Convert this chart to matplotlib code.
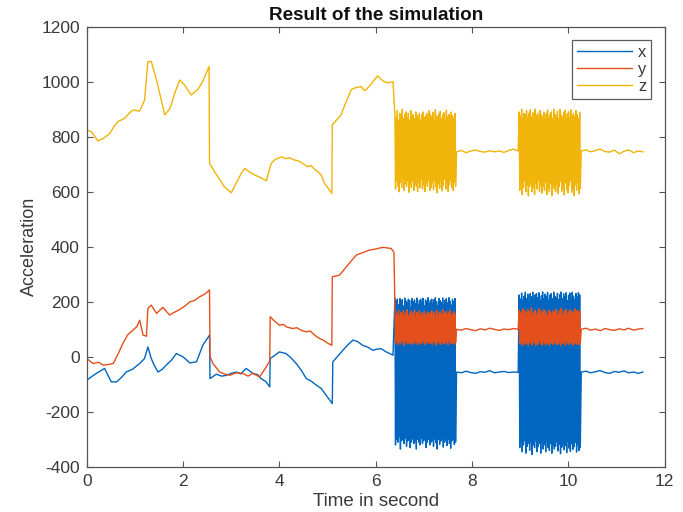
"""
Accelerometer x/y/z traces, MATLAB style figure.
"""

import numpy as np
import matplotlib.pyplot as plt

plt.rcParams["font.family"] = ["Liberation Sans", "DejaVu Sans"]
plt.rcParams["axes.unicode_minus"] = False

# colours (MATLAB default order)
col_x = "#0066BF"
col_y = "#E4501C"
col_z = "#F0B40A"

# --- smooth part, before the first burst ---
t_pre_x = [0, 0.1, 0.2, 0.37, 0.51, 0.62, 0.72, 0.82, 0.95, 1.10, 1.20, 1.27, 1.34, 1.40, 1.48,
           1.57, 1.65, 1.76, 1.86, 2.0, 2.14, 2.28, 2.41, 2.55, 2.56, 2.69, 2.80, 2.90, 3.00,
           3.11, 3.20, 3.31, 3.45, 3.55, 3.62, 3.72, 3.80, 3.81, 3.90, 4.00, 4.14, 4.25, 4.35,
           4.46, 4.56, 4.66, 4.77, 4.87, 4.97, 5.10, 5.11, 5.20, 5.32, 5.43, 5.53, 5.63, 5.73,
           5.84, 5.94, 6.03, 6.11, 6.22, 6.36]
x_pre = [-85, -72, -60, -42, -91, -91, -75, -55, -45, -24, -6, 36, -6, -30, -55,
         -45, -30, -12, 12, 0, -22, -18, 42, 79, -79, -63, -70, -67, -60,
         -55, -62, -42, -60, -65, -79, -90, -109, -6, 5, 18, 12, -5, -24,
         -50, -79, -88, -103, -115, -139, -170, -18, 0, 24, 45, 61, 55, 42,
         35, 24, 28, 30, 18, 6]

t_pre_y = [0, 0.13, 0.25, 0.34, 0.45, 0.55, 0.65, 0.75, 0.85, 0.96, 1.04, 1.10, 1.17, 1.24,
           1.27, 1.34, 1.45, 1.58, 1.72, 1.82, 1.93, 2.04, 2.14, 2.24, 2.34, 2.45, 2.55, 2.56,
           2.62, 2.76, 2.86, 2.97, 3.10, 3.24, 3.35, 3.45, 3.59, 3.73, 3.80, 3.81, 3.90, 4.00,
           4.08, 4.16, 4.28, 4.36, 4.46, 4.56, 4.64, 4.74, 4.83, 4.92, 5.00, 5.09, 5.10, 5.25,
           5.39, 5.50, 5.60, 5.72, 5.87, 6.00, 6.15, 6.32, 6.38]
y_pre = [-6, -24, -20, -30, -28, -24, 10, 49, 80, 97, 110, 133, 79, 75,
         176, 188, 158, 180, 152, 162, 172, 185, 200, 205, 218, 228, 243, 2,
         -24, -55, -62, -67, -58, -60, -70, -60, -73, -36, -15, 146, 130, 115,
         118, 108, 103, 106, 96, 91, 94, 78, 67, 60, 50, 42, 291, 297,
         327, 350, 370, 378, 388, 392, 398, 394, 380]

t_pre_z = [0, 0.10, 0.23, 0.34, 0.48, 0.57, 0.65, 0.79, 0.88, 0.96, 1.10, 1.20, 1.27, 1.34,
           1.45, 1.62, 1.73, 1.83, 1.93, 2.03, 2.17, 2.31, 2.42, 2.54, 2.55, 2.72, 2.86, 3.0,
           3.10, 3.21, 3.28, 3.38, 3.49, 3.60, 3.73, 3.83, 3.90, 3.97, 4.05, 4.12, 4.20, 4.32,
           4.40, 4.48, 4.59, 4.66, 4.73, 4.80, 4.87, 4.94, 5.09, 5.10, 5.28, 5.36, 5.49, 5.58,
           5.70, 5.76, 5.80, 5.90, 6.04, 6.10, 6.18, 6.26, 6.36]
z_pre = [824, 818, 785, 793, 812, 838, 855, 867, 885, 897, 893, 933, 1073, 1073,
         1006, 879, 903, 960, 1006, 988, 952, 972, 1005, 1055, 703, 655, 618, 596,
         630, 667, 685, 672, 661, 652, 640, 703, 715, 722, 727, 720, 724, 715,
         712, 703, 691, 695, 682, 673, 660, 630, 594, 843, 879, 915, 970, 978,
         982, 968, 970, 990, 1021, 1010, 1000, 996, 1000]

# --- oscillation bursts: peaks and troughs ---
burst1 = (6.40, 7.66)
burst2 = (8.98, 10.25)

x_b1_hi = [215, 205, 210, 190, 212, 200, 208, 185, 214, 203, 196, 210, 205, 180, 212, 200, 207,
           193, 214, 188, 205, 210, 198, 213, 185, 207, 200, 215, 195, 205, 210, 192, 208, 215,
           200, 186, 212, 204, 198, 214, 190, 206, 211, 196, 215, 202, 188, 209, 200, 212]
x_b1_lo = [-320, -300, -310, -290, -335, -305, -300, -315, -295, -325, -305, -300, -330, -310,
           -298, -315, -305, -335, -300, -310, -320, -295, -315, -305, -300, -330, -310, -300,
           -320, -310, -305, -325, -298, -312, -335, -300, -318, -306, -295, -328, -310, -302,
           -322, -300, -315, -332, -305, -298, -318, -310]
y_b1_hi = [165, 150, 160, 170, 145, 162, 155, 168, 150, 160, 172, 148, 158, 165, 152, 160, 170,
           147, 162, 155, 168, 150, 160, 145, 165, 158, 150, 162, 155, 160, 168, 152, 163, 147,
           170, 158, 150, 165, 155, 172, 148, 160, 166, 153, 161, 169, 150, 158, 164, 155]
y_b1_lo = [50, 60, 45, 55, 48, 62, 50, 42, 58, 52, 47, 60, 50, 45, 55, 48, 60, 52, 44, 56, 50,
           47, 58, 50, 45, 55, 52, 48, 60, 50, 46, 57, 51, 43, 59, 49, 54, 45, 61, 50, 47, 56,
           52, 44, 58, 50, 48, 55, 46, 52]
z_b1_hi = [880, 870, 895, 860, 885, 875, 900, 865, 880, 890, 870, 885, 860, 895, 875, 880, 865,
           890, 878, 870, 885, 860, 880, 890, 870, 875, 885, 865, 895, 880, 872, 888, 862, 898,
           876, 868, 884, 892, 866, 879, 887, 863, 896, 874, 881, 869, 890, 877, 865, 885]
z_b1_lo = [610, 640, 620, 600, 635, 615, 645, 605, 630, 620, 640, 598, 625, 615, 640, 605, 630,
           620, 600, 635, 615, 645, 610, 625, 600, 630, 620, 640, 605, 615, 632, 608, 642, 618,
           596, 628, 612, 638, 603, 622, 645, 610, 630, 600, 625, 640, 615, 605, 635, 620]

x_b2_hi = [225, 210, 232, 205, 220, 235, 212, 228, 200, 230, 218, 235, 208, 225, 230, 215, 233,
           205, 222, 236, 210, 228, 220, 234, 206, 225, 230, 212, 235, 220, 214, 231, 207, 226,
           236, 211, 229, 219, 233, 204, 224, 232, 213, 235, 221, 209, 230, 217, 234, 225]
x_b2_lo = [-330, -310, -345, -320, -305, -350, -325, -315, -340, -310, -355, -320, -330, -305,
           -345, -325, -315, -350, -310, -335, -320, -345, -305, -330, -340, -315, -350, -320,
           -335, -325, -308, -342, -318, -352, -328, -312, -338, -322, -348, -306, -332, -344,
           -316, -336, -326, -310, -346, -320, -340, -330]
y_b2_hi = [170, 158, 165, 175, 152, 168, 160, 172, 155, 166, 178, 150, 162, 170, 156, 165, 175,
           152, 168, 160, 172, 155, 166, 150, 170, 162, 156, 168, 160, 165, 174, 154, 167, 158,
           176, 151, 169, 161, 173, 157, 164, 171, 153, 166, 159, 175, 155, 168, 162, 170]
y_b2_lo = [48, 58, 42, 52, 45, 60, 48, 40, 55, 50, 44, 58, 48, 42, 52, 46, 58, 50, 42, 54, 48,
           44, 56, 48, 42, 52, 50, 46, 58, 48, 44, 55, 49, 41, 57, 47, 53, 43, 59, 48, 45, 54,
           50, 42, 56, 48, 46, 53, 44, 50]
z_b2_hi = [890, 875, 900, 865, 885, 880, 895, 870, 885, 898, 872, 888, 865, 900, 878, 885, 868,
           895, 880, 872, 890, 862, 885, 897, 870, 880, 890, 868, 900, 882, 874, 893, 866, 899,
           879, 871, 887, 896, 864, 883, 891, 869, 898, 876, 884, 873, 895, 880, 867, 888]
z_b2_lo = [605, 630, 590, 615, 640, 600, 625, 585, 620, 635, 600, 615, 590, 630, 610, 640, 600,
           625, 595, 620, 605, 635, 590, 615, 600, 630, 585, 620, 610, 600, 628, 594, 618, 638,
           602, 624, 588, 632, 608, 596, 622, 640, 598, 614, 586, 626, 606, 634, 592, 612]

# --- quiet stretches between and after the bursts ---
x_mid = [-55, -58, -52, -57, -60, -54, -56, -50, -58, -55, -53, -57, -55, -56]
y_mid = [100, 97, 103, 99, 95, 102, 98, 104, 100, 96, 101, 99, 103, 100]
z_mid = [745, 750, 742, 748, 752, 746, 744, 749, 745, 748, 743, 750, 755, 748]

x_tail = [-55, -52, -58, -54, -50, -57, -60, -53, -56, -51, -58, -55, -60, -55]
y_tail = [100, 104, 97, 101, 95, 103, 99, 96, 102, 98, 104, 97, 101, 103]
z_tail = [748, 752, 745, 750, 755, 746, 744, 751, 738, 747, 752, 742, 748, 745]


def burst(hi, lo, span):
    vals = [v for pair in zip(hi, lo) for v in pair]
    return np.linspace(span[0], span[1], len(vals)), np.array(vals, dtype=float)


def series(t_pre, v_pre, b1_hi, b1_lo, mid, b2_hi, b2_lo, tail):
    t1, v1 = burst(b1_hi, b1_lo, burst1)
    t2, v2 = burst(b2_hi, b2_lo, burst2)
    tm = np.linspace(7.68, 8.96, len(mid))
    tt = np.linspace(10.27, 11.55, len(tail))
    t = np.concatenate([t_pre, t1, tm, t2, tt])
    v = np.concatenate([v_pre, v1, mid, v2, tail])
    return t, v


tx, vx = series(t_pre_x, x_pre, x_b1_hi, x_b1_lo, x_mid, x_b2_hi, x_b2_lo, x_tail)
ty, vy = series(t_pre_y, y_pre, y_b1_hi, y_b1_lo, y_mid, y_b2_hi, y_b2_lo, y_tail)
tz, vz = series(t_pre_z, z_pre, z_b1_hi, z_b1_lo, z_mid, z_b2_hi, z_b2_lo, z_tail)

fig = plt.figure(figsize=(6.83, 5.12), dpi=100)
ax = fig.add_axes([0.127, 0.088, 0.846, 0.860])

ax.plot(tx, vx, color=col_x, lw=1.0, label="x")
ax.plot(ty, vy, color=col_y, lw=1.0, label="y")
ax.plot(tz, vz, color=col_z, lw=1.0, label="z")

ax.set_xlim(0, 12)
ax.set_ylim(-400, 1200)
ax.set_xticks(range(0, 13, 2))
ax.set_yticks(range(-400, 1201, 200))

gray = "#3a3a3a"
for s in ax.spines.values():
    s.set_color("#555555")
    s.set_linewidth(0.9)
ax.tick_params(direction="in", top=True, right=True, length=4, width=0.8,
               colors="#555555", labelcolor=gray, labelsize=12.5, pad=5)

ax.set_title("Result of the simulation", fontsize=13.6, fontweight="bold", color="#111111", pad=5)
ax.set_xlabel("Time in second", fontsize=13.5, color=gray, labelpad=3)
ax.set_ylabel("Acceleration", fontsize=13, color=gray, labelpad=2)

leg = ax.legend(loc="upper right", bbox_to_anchor=(0.977, 0.970), borderaxespad=0, fontsize=12,
                handlelength=3.3, handletextpad=0.35, borderpad=0.3, labelspacing=0.12,
                fancybox=False)
leg.get_frame().set_edgecolor("#333333")
leg.get_frame().set_linewidth(0.9)
for txt in leg.get_texts():
    txt.set_color(gray)

fig.savefig("out.png", dpi=100)
